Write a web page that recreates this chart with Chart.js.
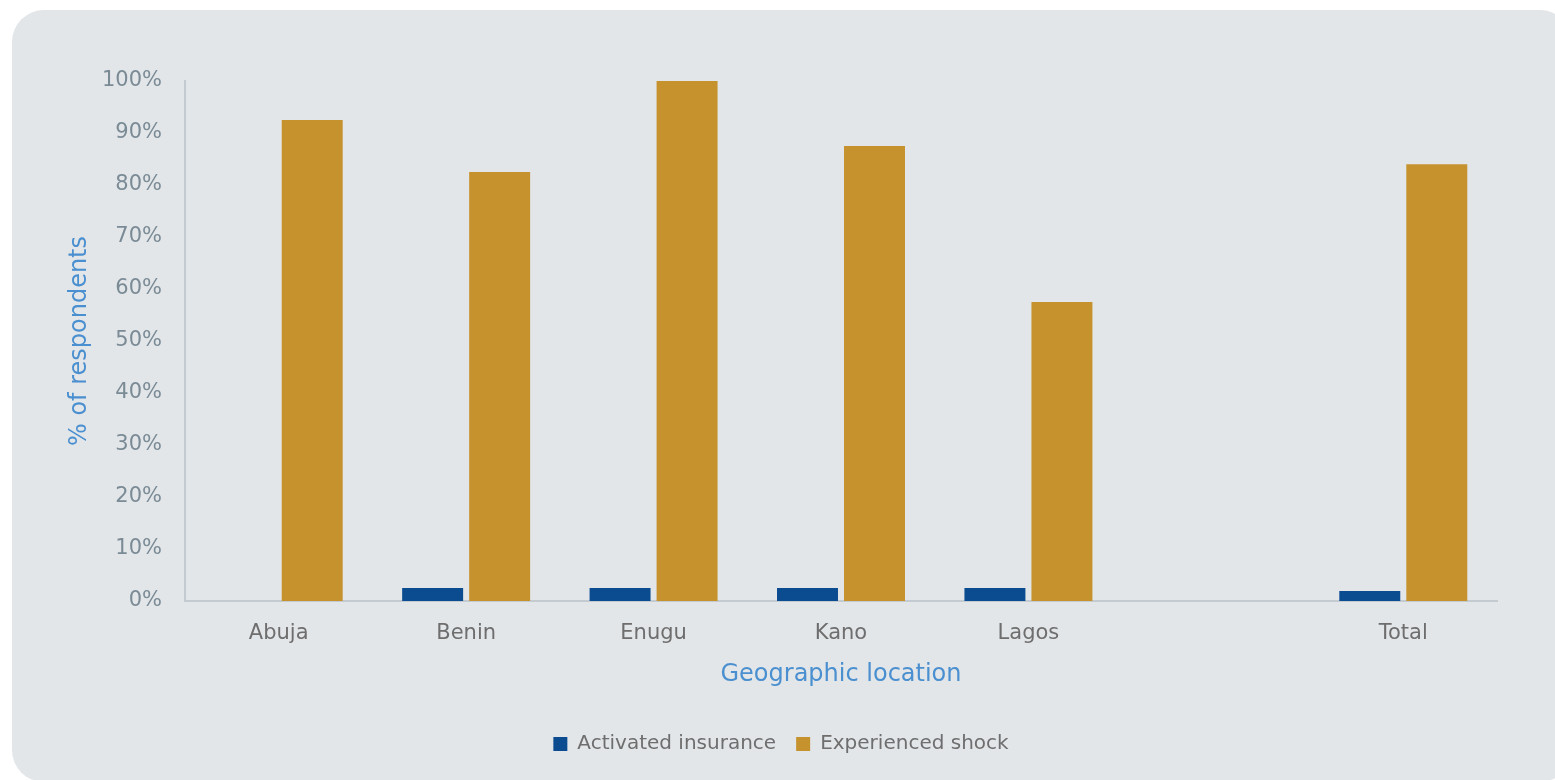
<!DOCTYPE html>
<html>
<head>
<meta charset="utf-8">
<script src="https://cdn.jsdelivr.net/npm/chart.js@4/dist/chart.umd.min.js"></script>
<style>
  html, body { margin: 0; padding: 0; background: #fff; overflow: hidden; }
  #panel { position: absolute; left: 12px; top: 10px; width: 1560px; height: 772px;
           background: #e3e6e9; border-radius: 32px; }
  #wrap { position: absolute; left: 0; top: 0; width: 1555px; height: 780px; }
</style>
</head>
<body>
<div id="panel"></div>
<div id="wrap"><canvas id="chart"></canvas></div>
<script>
// categories (the blank one is a spacer before Total)
var categories = ['Abuja', 'Benin', 'Enugu', 'Kano', 'Lagos', '', 'Total'];
var activated = [0, 2.5, 2.5, 2.5, 2.5, null, 1.9];
var shock = [92.5, 82.5, 100, 87.5, 57.5, null, 84];
var yTicks = [0, 10, 20, 30, 40, 50, 60, 70, 80, 90, 100];

var fontFam = "'DejaVu Sans', 'Open Sans', sans-serif";

var config = {
	type: 'bar',
	data: {
		labels: categories,
		datasets: [
			{ label: 'Activated insurance', data: activated, backgroundColor: '#0b4b90' },
			{ label: 'Experienced shock', data: shock, backgroundColor: '#c6922e' }
		]
	},
	options: {
		responsive: true,
		maintainAspectRatio: false,
		animation: false,
		datasets: { bar: { categoryPercentage: 0.715, barPercentage: 0.91 } },
		layout: { padding: { left: 65, top: 81, right: 58, bottom: 16 } },
		plugins: {
			tooltip: { enabled: false },
			legend: {
				position: 'bottom',
				labels: {
					boxWidth: 14, boxHeight: 14, padding: 20,
					color: '#6e6e6e',
					font: { family: fontFam, size: 20 }
				}
			}
		},
		scales: {
			x: {
				grid: { display: false },
				border: { display: true, color: '#c3cbd1', width: 2 },
				ticks: { color: '#6e6e6e', padding: 12, font: { family: fontFam, size: 21 } },
				title: {
					display: true, text: 'Geographic location', color: '#4a8fcf',
					padding: { top: 2, bottom: 25 },
					font: { family: fontFam, size: 24 }
				}
			},
			y: {
				min: 0, max: 100,
				afterBuildTicks: function (s) { s.ticks = yTicks.map(function (v) { return { value: v }; }); },
				afterFit: function (s) { s.width = 120; },
				grid: { display: false },
				border: { display: true, color: '#c3cbd1', width: 2 },
				ticks: {
					color: '#7a8b96', padding: 15,
					font: { family: fontFam, size: 21 },
					callback: function (v) { return v + '%'; }
				},
				title: {
					display: true, text: '% of respondents', color: '#4a8fcf',
					padding: { top: 0, bottom: 0 },
					font: { family: fontFam, size: 24 }
				}
			}
		}
	}
};

var ctx = document.getElementById('chart').getContext('2d');
var chart = new Chart(ctx, config);
</script>
</body>
</html>
